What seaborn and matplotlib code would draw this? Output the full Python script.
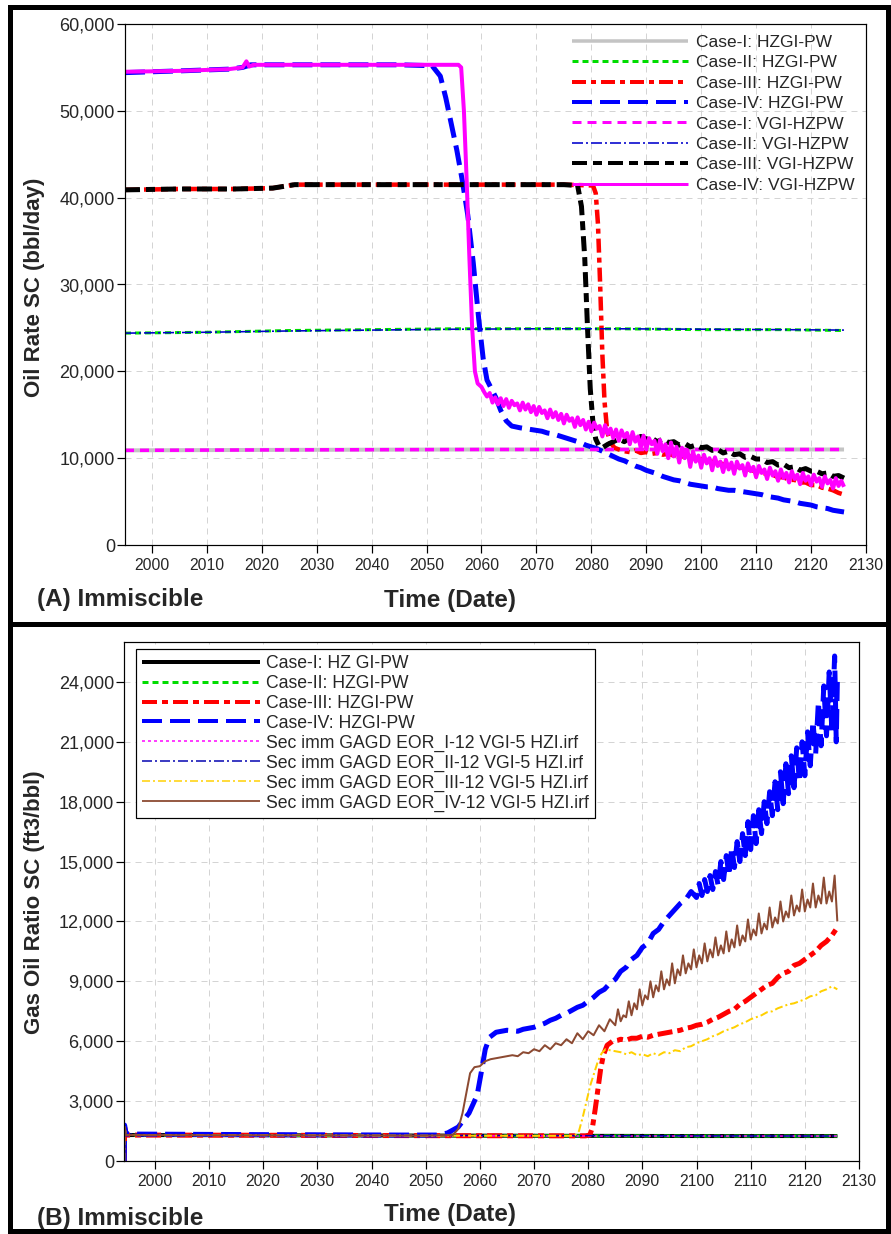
import matplotlib
matplotlib.use("Agg")
import matplotlib.pyplot as plt
import seaborn as sns
from matplotlib import font_manager as fm
from matplotlib.lines import Line2D
from matplotlib.patches import Rectangle
from matplotlib.ticker import FuncFormatter, MultipleLocator

# ---------------------------------------------------------------- oil rate (bbl/day)
rate_case1_hz_t = [1995.1, 2020, 2060, 2100, 2126]
rate_case1_hz = [10900, 10950, 11000, 11000, 11000]

rate_case1_vgi_t = [1995.1, 2020, 2060, 2100, 2126]
rate_case1_vgi = [10900, 10950, 11000, 11000, 11000]

rate_case2_hz_t = [1995.1, 2010, 2025, 2040, 2055, 2070, 2085, 2100, 2115, 2126]
rate_case2_hz = [24400, 24500, 24700, 24800, 24900, 24900, 24900, 24800, 24800, 24700]

rate_case2_vgi_t = [1995.1, 2010, 2025, 2040, 2055, 2070, 2085, 2100, 2115, 2126]
rate_case2_vgi = [24400, 24500, 24650, 24750, 24850, 24900, 24900, 24850, 24800, 24750]

rate_case3_hz_t = [1995.1, 2005, 2015, 2022, 2024, 2026, 2040, 2060, 2075, 2080.3, 2080.8,
                   2081.2, 2081.6, 2082.0, 2082.4, 2082.9, 2083.5, 2084.2, 2085] + list(range(2086, 2127))
rate_case3_hz = [40900, 41000, 41000, 41100, 41300, 41500, 41500, 41500, 41500, 41400, 40500,
                 37000, 30000, 22000, 16500, 13000, 11800, 11200, 11000,
                 10800, 10700, 10900, 10600, 10700, 10500, 10600, 10400, 10500, 10300,
                 10400, 10100, 10200, 9900, 9900, 9700, 9600, 9500, 9300, 9200,
                 9000, 9000, 8700, 8700, 8400, 8400, 8100, 8100, 7800, 7800,
                 7500, 7500, 7200, 7200, 6900, 6900, 6600, 6500, 6300, 6000, 5800]

rate_case3_vgi_t = [1995.1, 2005, 2015, 2022, 2024, 2026, 2040, 2060, 2075, 2077.5, 2078.2,
                    2078.8, 2079.3, 2079.8, 2080.3, 2080.8, 2081.4, 2082, 2083, 2084] + list(range(2085, 2127))
rate_case3_vgi = [40900, 41000, 41000, 41100, 41300, 41500, 41500, 41500, 41500, 41400, 39000,
                  33000, 25000, 18000, 14000, 12200, 11400, 11200, 11600, 11900,
                  12200, 11900, 12400, 12100, 12500, 12200, 12300, 11900, 12200, 11800,
                  11900, 11500, 11700, 11300, 11500, 11200, 11300, 10900, 11000, 10600,
                  10800, 10400, 10500, 10100, 10200, 9900, 9900, 9500, 9600, 9200,
                  9300, 8900, 9000, 8600, 8800, 8500, 8500, 8200, 8300, 7900, 8000, 7700]

rate_case4_hz_t = [1995.1, 2005, 2014, 2016.5, 2018, 2030, 2045, 2051, 2052.5, 2053.5, 2054.5,
                   2055.5, 2056.5, 2057.5, 2058.5, 2059.5, 2060.3, 2061, 2061.8, 2062.6, 2063.5,
                   2064.5, 2065.5, 2067] + list(range(2068, 2127))
rate_case4_hz = [54400, 54600, 54800, 55000, 55300, 55300, 55300, 55200, 54000, 51500, 48500,
                 45500, 42000, 38000, 32500, 26000, 21500, 19000, 18000, 17000, 15500,
                 14300, 13700, 13500,
                 13400, 13300, 13200, 13100, 12900, 12800, 12600, 12400, 12200, 12000,
                 11800, 11500, 11300, 11100, 10800, 10500, 10200, 9900, 9700, 9400,
                 9100, 8900, 8600, 8400, 8200, 7900, 7700, 7500, 7400, 7200,
                 7000, 6900, 6800, 6700, 6700, 6500, 6400, 6300, 6300, 6200,
                 6100, 6000, 5900, 5800, 5600, 5500, 5400, 5200, 5100, 5000,
                 4800, 4700, 4600, 4400, 4300, 4200, 4000, 3900, 3800]

rate_case4_vgi_t = [1995.1, 2005, 2014, 2016.5, 2017.2, 2017.7, 2018.5, 2030, 2045, 2055.8, 2056.3,
                    2056.8, 2057.3, 2057.8, 2058.3, 2058.8, 2059.3] + [2060 + 0.5 * i for i in range(133)]
rate_case4_vgi = [54500, 54600, 54800, 55000, 55700, 55100, 55300, 55300, 55300, 55300, 55000,
                  50000, 42000, 33000, 25000, 20000, 18600,
                  18200, 17600, 17100, 17500, 16400, 17000, 16200, 16900, 16000, 16800,
                  15800, 16600, 16100, 16300, 15500, 16400, 15600, 16200, 15300, 16000,
                  15000, 15900, 15200, 15500, 14600, 15600, 14700, 15300, 14400, 15100,
                  14000, 15000, 14300, 14600, 13600, 14700, 13800, 14400, 13300, 14200,
                  13100, 14100, 13400, 13700, 12500, 13800, 12800, 13400, 12300, 13300,
                  12000, 13200, 12400, 12900, 11600, 13000, 11900, 12500, 11200, 12600,
                  11000, 12300, 11600, 12000, 10500, 12100, 10800, 11600, 10000, 11800,
                  10200, 11300, 9500, 11200, 10000, 10900, 9000, 10800, 9600, 10300,
                  8900, 10400, 9400, 10000, 8600, 10100, 9100, 9600, 8400, 9800,
                  8700, 9500, 8200, 9600, 8800, 9200, 8000, 9400, 8500, 9000,
                  7800, 9100, 8300, 8700, 7600, 8900, 8000, 8500, 7400, 8700,
                  7700, 8300, 7200, 8500, 7600, 8100, 7000, 8300, 7400, 7900,
                  6900, 8100, 7300, 7700, 6700, 7900, 7100, 7500, 6500, 7700,
                  6800, 7400, 6700]

# ---------------------------------------------------------------- gas oil ratio (ft3/bbl)
flat_t = [1994.35, 1994.4, 1994.7, 2000, 2020, 2040, 2060, 2080, 2100, 2126]
gor_case1_hz = [0, 1750, 1300, 1300, 1290, 1280, 1270, 1260, 1250, 1250]
gor_case2_hz = [0, 1700, 1300, 1290, 1280, 1270, 1260, 1260, 1250, 1250]
gor_sec_1 = [0, 1700, 1290, 1290, 1280, 1270, 1260, 1250, 1250, 1250]
gor_sec_2 = [0, 1800, 1350, 1330, 1300, 1290, 1280, 1270, 1260, 1250]

gor_case3_hz_t = [1994.35, 1994.4, 1994.7, 2020, 2050, 2079.5, 2080.3, 2080.8, 2081.3, 2081.8,
                  2082.3, 2082.8, 2083.5, 2084.5, 2085.5] + list(range(2086, 2127))
gor_case3_hz = [0, 1700, 1300, 1290, 1270, 1260, 1300, 1700, 2600, 3600,
                4600, 5300, 5800, 6000, 6050,
                6100, 6050, 6150, 6150, 6250, 6200, 6300, 6350, 6400, 6450,
                6500, 6550, 6650, 6700, 6800, 6850, 6950, 7100, 7200, 7350,
                7500, 7600, 7850, 8000, 8200, 8400, 8600, 8800, 8900, 9200,
                9400, 9500, 9800, 9900, 10100, 10300, 10500, 10800, 11000, 11300, 11700]

gor_sec_3_t = [1994.35, 1994.4, 1994.7, 2020, 2050, 2077.5, 2078.3, 2079, 2079.7, 2080.4,
               2081.1, 2081.8, 2082.5, 2083.2, 2084, 2085] + list(range(2086, 2127))
gor_sec_3 = [0, 1700, 1300, 1290, 1270, 1260, 1500, 2200, 3000, 3800,
             4400, 5000, 5400, 5600, 5550, 5500,
             5450, 5350, 5450, 5300, 5350, 5250, 5400, 5300, 5450, 5400,
             5550, 5500, 5700, 5750, 5900, 6000, 6100, 6250, 6350, 6500,
             6600, 6700, 6850, 6950, 7100, 7200, 7300, 7450, 7500, 7650,
             7750, 7850, 7900, 8000, 8100, 8250, 8300, 8500, 8600, 8750, 8600]

gor_case4_hz_t = ([1994.35, 1994.4, 1994.7, 2020, 2045, 2052, 2054, 2056, 2058, 2059.5,
                   2060.3, 2061, 2061.8, 2063, 2065, 2067] + list(range(2068, 2100))
                  + [2100 + 0.5 * i for i in range(52)] + [2125.8, 2126])
gor_case4_hz = [0, 1800, 1350, 1320, 1300, 1300, 1400, 1700, 2400, 3300,
                4500, 5600, 6200, 6450, 6550, 6500,
                6600, 6650, 6700, 6800, 6900, 7050, 7150, 7300, 7400, 7550,
                7700, 7800, 8000, 8200, 8450, 8600, 8900, 9100, 9500, 9700,
                10100, 10300, 10700, 10900, 11400, 11600, 12000, 12300, 12600, 12900,
                13100, 13500,
                13200, 13900, 13300, 14100, 13500, 14300, 13600, 14500, 13800, 15000,
                14100, 15300, 14300, 15700, 14700, 16000, 15000, 16400, 15300, 17000,
                15600, 17300, 15900, 17600, 16400, 18000, 16900, 18500, 17300, 19000,
                17600, 19500, 17900, 19900, 18400, 20300, 18700, 20700, 19000, 21000,
                19300, 21500, 19800, 22000, 20400, 23000, 20800, 23800, 21300, 24500,
                21500, 25300, 21000, 24000]

gor_sec_4_t = ([1994.35, 1994.4, 1994.7, 2020, 2050, 2055, 2056, 2056.8, 2057.5, 2058.2,
                2059, 2060, 2061, 2062, 2063] + list(range(2064, 2085))
               + [2085 + 0.5 * i for i in range(83)])
gor_sec_4 = [0, 1700, 1300, 1290, 1270, 1300, 1600, 2400, 3400, 4400,
             4700, 4750, 5000, 5100, 5150,
             5200, 5250, 5300, 5250, 5450, 5400, 5600, 5500, 5800, 5600,
             5900, 5800, 6100, 5900, 6400, 6100, 6500, 6300, 6800, 6500, 7100,
             6800, 7600, 7000, 7300, 7200, 8000, 7300, 7900, 7600, 8600,
             7800, 8300, 8100, 9000, 8200, 8800, 8500, 9500, 8600, 9100,
             8800, 9900, 8900, 9600, 9300, 10300, 9400, 9900, 9600, 10600,
             9700, 10300, 9900, 10900, 10000, 10600, 10200, 11200, 10300, 10800,
             10400, 11500, 10500, 11100, 10700, 11800, 10800, 11300, 11000, 12100,
             11100, 11600, 11300, 12400, 11400, 11900, 11600, 12700, 11700, 12200,
             11900, 13000, 12000, 12500, 12200, 13300, 12300, 12800, 12500, 13600,
             12500, 13100, 12700, 13900, 12700, 13300, 12900, 14200, 12900, 13500,
             13000, 14300, 12000]

year_ticks = list(range(2000, 2131, 10))

# ---------------------------------------------------------------- styling
W, H = 891, 1234
PX = 72 / 100  # points per pixel at 100 dpi

sns.set_style("white")
plt.rcParams["font.family"] = ["Liberation Sans", "DejaVu Sans"]
plt.rcParams["lines.scale_dashes"] = False
plt.rcParams["lines.solid_capstyle"] = "butt"
plt.rcParams["lines.dash_capstyle"] = "butt"


def pick_font(*names):
    for name in names:
        try:
            fm.findfont(fm.FontProperties(family=name), fallback_to_default=False)
            return name
        except ValueError:
            continue
    return None


NARROW = pick_font("Liberation Sans Narrow", "Arial Narrow")
HAS_NARROW = NARROW is not None
if not HAS_NARROW:
    NARROW = "Liberation Sans"


def dash(*px):
    return (0, tuple(p * PX for p in px))


def fx(x):
    return x / W


def fy(y):
    return 1 - y / H


fig = plt.figure(figsize=(W / 100, H / 100), dpi=100)
fig.patch.set_facecolor("white")

ax_top = fig.add_axes([fx(125), fy(545), (866 - 125) / W, (545 - 24) / H])
ax_bot = fig.add_axes([fx(124), fy(1161), (859 - 124) / W, (1161 - 642) / H])

# (t, values, label, colour, curve width px, legend width px, line style)
top_series = [
    (rate_case1_hz_t, rate_case1_hz, "Case-I: HZGI-PW", "#c4c4c4", 4.0, 3.5, "-"),
    (rate_case2_hz_t, rate_case2_hz, "Case-II: HZGI-PW", "#00dd00", 3.0, 3.0, dash(6, 4)),
    (rate_case3_hz_t, rate_case3_hz, "Case-III: HZGI-PW", "#ff0000", 4.5, 4.0, dash(14, 5, 5, 5)),
    (rate_case4_hz_t, rate_case4_hz, "Case-IV: HZGI-PW", "#0000ff", 5.0, 4.0, dash(20, 8)),
    (rate_case1_vgi_t, rate_case1_vgi, "Case-I: VGI-HZPW", "#ff00ff", 3.5, 3.0, dash(9, 6)),
    (rate_case2_vgi_t, rate_case2_vgi, "Case-II: VGI-HZPW", "#0000cc", 1.6, 1.6, dash(11, 3, 2, 3)),
    (rate_case3_vgi_t, rate_case3_vgi, "Case-III: VGI-HZPW", "#000000", 5.0, 4.0, dash(15, 6, 9, 6)),
    (rate_case4_vgi_t, rate_case4_vgi, "Case-IV: VGI-HZPW", "#ff00ff", 4.0, 3.0, "-"),
]

bot_series = [
    (flat_t, gor_case1_hz, "Case-I: HZ GI-PW", "#000000", 4.0, 4.0, "-"),
    (flat_t, gor_case2_hz, "Case-II: HZGI-PW", "#00dd00", 3.0, 3.0, dash(6, 4)),
    (gor_case3_hz_t, gor_case3_hz, "Case-III: HZGI-PW", "#ff0000", 5.0, 4.0, dash(15, 5, 6, 5)),
    (gor_case4_hz_t, gor_case4_hz, "Case-IV: HZGI-PW", "#0000ff", 5.0, 4.0, dash(20, 8)),
    (flat_t, gor_sec_1, "Sec imm GAGD EOR_I-12 VGI-5 HZI.irf", "#ff00ff", 1.5, 1.5, dash(3, 3)),
    (flat_t, gor_sec_2, "Sec imm GAGD EOR_II-12 VGI-5 HZI.irf", "#0000b0", 1.5, 1.5, dash(10, 3, 2, 3)),
    (gor_sec_3_t, gor_sec_3, "Sec imm GAGD EOR_III-12 VGI-5 HZI.irf", "#ffd000", 2.0, 1.5, dash(8, 3, 2, 3)),
    (gor_sec_4_t, gor_sec_4, "Sec imm GAGD EOR_IV-12 VGI-5 HZI.irf", "#8c4a32", 2.0, 1.8, "-"),
]

legend_handles = {}
for ax, series in ((ax_top, top_series), (ax_bot, bot_series)):
    handles = []
    for t, v, label, color, lw_px, leg_px, ls in series:
        sns.lineplot(x=t, y=v, ax=ax, color=color, linewidth=lw_px * PX,
                     linestyle=ls, sort=False, errorbar=None)
        handles.append(Line2D([], [], color=color, linewidth=leg_px * PX,
                              linestyle=ls, label=label))
    legend_handles[ax] = handles

comma = FuncFormatter(lambda v, _: f"{int(round(v)):,}")

ax_top.set_xlim(1995.1, 2130)
ax_top.set_ylim(0, 60000)
ax_top.yaxis.set_major_locator(MultipleLocator(10000))

ax_bot.set_xlim(1994.3, 2130)
ax_bot.set_ylim(0, 26000)
ax_bot.set_yticks(list(range(0, 24001, 3000)))

xfs = 14.5 if HAS_NARROW else 11.3
for ax in (ax_top, ax_bot):
    ax.set_xticks(year_ticks)
    ax.yaxis.set_major_formatter(comma)
    ax.set_xlabel("")
    ax.set_ylabel("")
    ax.set_axisbelow(True)
    ax.grid(True, color="#d4d4d4", linestyle=dash(6, 5), linewidth=1.0 * PX)
    for s in ax.spines.values():
        s.set_color("black")
        s.set_linewidth(1.2 * PX)
    ax.tick_params(axis="both", direction="out", length=8 * PX, width=1.2 * PX,
                   color="black", bottom=True, left=True)
    ax.tick_params(axis="x", pad=3.5)
    ax.tick_params(axis="y", pad=1.5, labelsize=13)
    for lab in ax.get_xticklabels():
        lab.set_fontfamily(NARROW)
        lab.set_fontsize(xfs)

# legends
ax_top.legend(handles=legend_handles[ax_top], loc="upper left",
              bbox_to_anchor=((572 - 125) / (866 - 125), 0.979),
              frameon=False, fontsize=12.5, handlelength=6.7, handletextpad=0.45,
              labelspacing=0.30, borderpad=0, borderaxespad=0)

leg = ax_bot.legend(handles=legend_handles[ax_bot], loc="upper left",
                    bbox_to_anchor=((136 - 124) / (859 - 124), 1 - (649 - 642) / (1161 - 642)),
                    frameon=True, fancybox=False, framealpha=1, edgecolor="black",
                    fontsize=12.7, handlelength=6.7, handletextpad=0.3,
                    labelspacing=0.16, borderpad=0.35, borderaxespad=0)
leg.get_frame().set_linewidth(1.2 * PX)

# axis titles and panel tags
label_fs = 21 if HAS_NARROW else 17.5
fig.text(fx(35), fy(287), "Oil Rate SC (bbl/day)", rotation=90, ha="center", va="center",
         fontsize=16, fontweight="bold")
fig.text(fx(35), fy(902), "Gas Oil Ratio SC (ft3/bbl)", rotation=90, ha="center", va="center",
         fontsize=16, fontweight="bold")
for y_px, tag in ((599, "(A) Immiscible"), (1218, "(B) Immiscible")):
    fig.text(fx(37), fy(y_px), tag, ha="left", va="center", fontsize=label_fs,
             fontweight="bold", family=NARROW)
for y_px in (600, 1214):
    fig.text(fx(450), fy(y_px), "Time (Date)", ha="center", va="center", fontsize=label_fs,
             fontweight="bold", family=NARROW)

# heavy panel frames
for x0, y0, x1, y1 in ((8, 5, 13, 1234), (886, 5, 891, 1234), (8, 5, 891, 10),
                       (8, 622, 891, 627), (8, 1229, 891, 1234)):
    fig.add_artist(Rectangle((fx(x0), fy(y1)), (x1 - x0) / W, (y1 - y0) / H,
                             transform=fig.transFigure, facecolor="black",
                             edgecolor="none", zorder=10))

fig.savefig("out.png", dpi=100)
